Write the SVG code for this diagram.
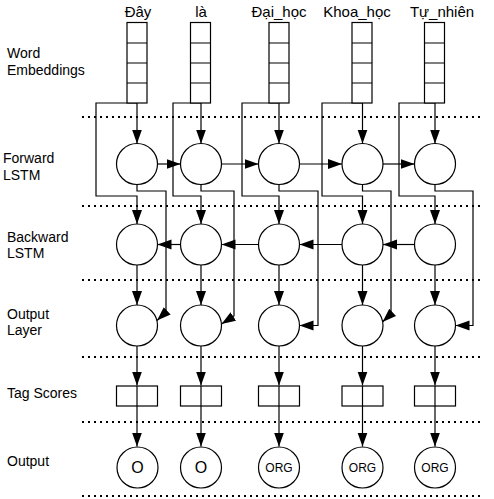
<svg xmlns="http://www.w3.org/2000/svg" width="494" height="499" viewBox="0 0 494 499">
<style>
text{font-family:"Liberation Sans",Arial,sans-serif;fill:#000}
.lbl{font-size:14px}
.word{font-size:15px;text-anchor:middle}
.node{fill:#fff;stroke:#000;stroke-width:1.2}
.edge{fill:none;stroke:#000;stroke-width:1.2}
.arr{marker-end:url(#ah)}
.sep{stroke:#000;stroke-width:2;stroke-dasharray:2 4;fill:none}
.o1{font-size:16px;text-anchor:middle}
.o2{font-size:12px;text-anchor:middle}
</style>
<defs>
<marker id="ah" markerUnits="userSpaceOnUse" markerWidth="15" markerHeight="11" refX="14" refY="5" orient="auto">
<path d="M0,0 L14,5 L0,10 z" fill="#000"/>
</marker>
</defs>
<rect width="494" height="499" fill="#fff"/>
<g id="layer-labels">
<text class="lbl" x="7" y="58">Word</text>
<text class="lbl" x="7" y="75">Embeddings</text>
<text class="lbl" x="3" y="163">Forward</text>
<text class="lbl" x="3" y="180">LSTM</text>
<text class="lbl" x="7" y="242">Backward</text>
<text class="lbl" x="7" y="258">LSTM</text>
<text class="lbl" x="7" y="319">Output</text>
<text class="lbl" x="7" y="335">Layer</text>
<text class="lbl" x="7" y="398">Tag Scores</text>
<text class="lbl" x="7" y="466">Output</text>
</g>
<g id="separators">
<line class="sep" x1="82" y1="117" x2="480" y2="117"/>
<line class="sep" x1="82" y1="206" x2="480" y2="206"/>
<line class="sep" x1="82" y1="280" x2="480" y2="280"/>
<line class="sep" x1="82" y1="357" x2="480" y2="357"/>
<line class="sep" x1="82" y1="422" x2="480" y2="422"/>
<line class="sep" x1="82" y1="496" x2="480" y2="496"/>
</g>
<g id="connectors">
<!-- embedding to forward -->
<path class="edge arr" d="M137,103 V143.5"/>
<path class="edge arr" d="M201,103 V143.5"/>
<path class="edge arr" d="M279,103 V143.5"/>
<path class="edge arr" d="M362.5,103 V143.5"/>
<path class="edge arr" d="M435,103 V143.5"/>
<!-- embedding to backward (left detour) -->
<path class="edge arr" d="M137,103 H96 V196 H137 V224"/>
<path class="edge arr" d="M201,103 H173 V196 H201 V224"/>
<path class="edge arr" d="M279,103 H242 V196 H279 V224"/>
<path class="edge arr" d="M362.5,103 H322 V196 H362.5 V224"/>
<path class="edge arr" d="M435,103 H399 V196 H435 V224"/>
<!-- forward recurrence -->
<path class="edge arr" d="M157.5,164 H180.5"/>
<path class="edge arr" d="M221.5,164 H258.5"/>
<path class="edge arr" d="M299.5,164 H342"/>
<path class="edge arr" d="M383,164 H414.5"/>
<!-- backward recurrence -->
<path class="edge arr" d="M180.5,244.5 H157.5"/>
<path class="edge arr" d="M258.5,244.5 H221.5"/>
<path class="edge arr" d="M342,244.5 H299.5"/>
<path class="edge arr" d="M414.5,244.5 H383"/>
<!-- forward to output layer -->
<path class="edge arr" d="M137,184.5 V191 H166 V312 L157,320.5"/>
<path class="edge arr" d="M201,184.5 V191 H234 V316 L221.5,324"/>
<path class="edge arr" d="M279,184.5 V191 H318 V325.5 H299.5"/>
<path class="edge arr" d="M362.5,184.5 V191 H391 V314 L382.5,322"/>
<path class="edge arr" d="M435,184.5 V191 H473 V325.5 H455.5"/>
<!-- backward to output layer -->
<path class="edge arr" d="M137,265 V305"/>
<path class="edge arr" d="M201,265 V305"/>
<path class="edge arr" d="M279,265 V305"/>
<path class="edge arr" d="M362.5,265 V305"/>
<path class="edge arr" d="M435,265 V305"/>
<!-- output layer to tag scores -->
<path class="edge arr" d="M137,346 V385.5"/>
<path class="edge arr" d="M201,346 V385.5"/>
<path class="edge arr" d="M279,346 V385.5"/>
<path class="edge arr" d="M362.5,346 V385.5"/>
<path class="edge arr" d="M435,346 V385.5"/>
</g>
<g id="embeddings">
<g id="emb-1"><text class="word" x="138" y="17">Đây</text><rect class="node" x="127" y="22.5" width="20" height="80.5"/><path class="edge" d="M127,43 H147 M127,63 H147 M127,83 H147"/></g>
<g id="emb-2"><text class="word" x="201" y="17">là</text><rect class="node" x="190.5" y="22.5" width="20" height="80.5"/><path class="edge" d="M190.5,43 H210.5 M190.5,63 H210.5 M190.5,83 H210.5"/></g>
<g id="emb-3"><text class="word" x="279" y="17">Đại_học</text><rect class="node" x="269" y="22.5" width="20" height="80.5"/><path class="edge" d="M269,43 H289 M269,63 H289 M269,83 H289"/></g>
<g id="emb-4"><text class="word" x="357" y="17">Khoa_học</text><rect class="node" x="352" y="22.5" width="20" height="80.5"/><path class="edge" d="M352,43 H372 M352,63 H372 M352,83 H372"/></g>
<g id="emb-5"><text class="word" x="442" y="17">Tự_nhiên</text><rect class="node" x="424.5" y="22.5" width="20" height="80.5"/><path class="edge" d="M424.5,43 H444.5 M424.5,63 H444.5 M424.5,83 H444.5"/></g>
</g>
<g id="forward">
<circle id="fw-1" class="node" cx="137" cy="164" r="20.5"/>
<circle id="fw-2" class="node" cx="201" cy="164" r="20.5"/>
<circle id="fw-3" class="node" cx="279" cy="164" r="20.5"/>
<circle id="fw-4" class="node" cx="362.5" cy="164" r="20.5"/>
<circle id="fw-5" class="node" cx="435" cy="164" r="20.5"/>
</g>
<g id="backward">
<circle id="bw-1" class="node" cx="137" cy="244.5" r="20.5"/>
<circle id="bw-2" class="node" cx="201" cy="244.5" r="20.5"/>
<circle id="bw-3" class="node" cx="279" cy="244.5" r="20.5"/>
<circle id="bw-4" class="node" cx="362.5" cy="244.5" r="20.5"/>
<circle id="bw-5" class="node" cx="435" cy="244.5" r="20.5"/>
</g>
<g id="output-layer">
<circle id="ol-1" class="node" cx="137" cy="325.5" r="20.5"/>
<circle id="ol-2" class="node" cx="201" cy="325.5" r="20.5"/>
<circle id="ol-3" class="node" cx="279" cy="325.5" r="20.5"/>
<circle id="ol-4" class="node" cx="362.5" cy="325.5" r="20.5"/>
<circle id="ol-5" class="node" cx="435" cy="325.5" r="20.5"/>
</g>
<g id="tag-scores">
<g id="ts-1"><rect class="node" x="116.5" y="386" width="41" height="20"/><path class="edge arr" d="M137,386 V446.5"/></g>
<g id="ts-2"><rect class="node" x="180.5" y="386" width="41" height="20"/><path class="edge arr" d="M201,386 V446.5"/></g>
<g id="ts-3"><rect class="node" x="258.5" y="386" width="41" height="20"/><path class="edge arr" d="M279,386 V446.5"/></g>
<g id="ts-4"><rect class="node" x="342" y="386" width="41" height="20"/><path class="edge arr" d="M362.5,386 V446.5"/></g>
<g id="ts-5"><rect class="node" x="414.5" y="386" width="41" height="20"/><path class="edge arr" d="M435,386 V446.5"/></g>
</g>
<g id="outputs">
<g id="out-1"><circle class="node" cx="137.5" cy="467.5" r="20.5"/><text class="o1" x="137.5" y="473">O</text></g>
<g id="out-2"><circle class="node" cx="201" cy="467.5" r="20.5"/><text class="o1" x="201" y="473">O</text></g>
<g id="out-3"><circle class="node" cx="279" cy="467.5" r="20.5"/><text class="o2" x="279" y="471.5">ORG</text></g>
<g id="out-4"><circle class="node" cx="362.5" cy="467.5" r="20.5"/><text class="o2" x="362.5" y="471.5">ORG</text></g>
<g id="out-5"><circle class="node" cx="435" cy="467.5" r="20.5"/><text class="o2" x="435" y="471.5">ORG</text></g>
</g>
</svg>
